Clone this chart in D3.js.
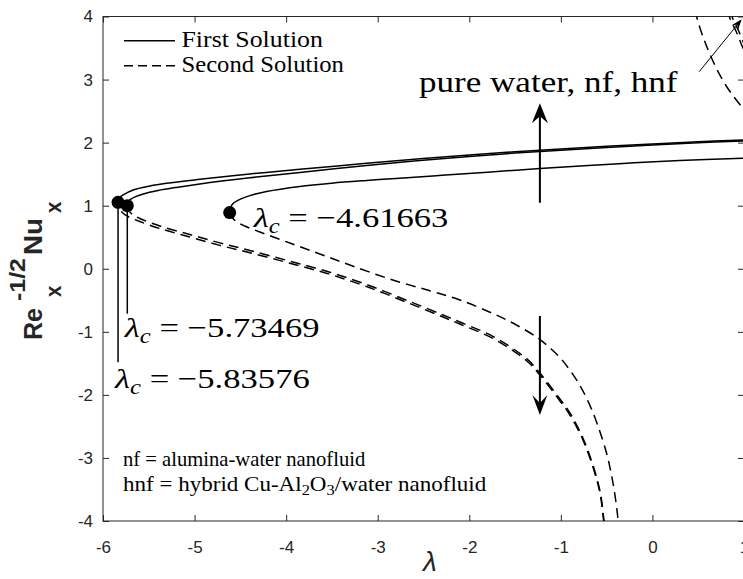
<!DOCTYPE html>
<html>
<head>
<meta charset="utf-8">
<script src="https://cdn.jsdelivr.net/npm/d3@7"></script>
<style>
  html, body { margin: 0; padding: 0; background: #fff; overflow: hidden; }
  svg { display: block; }
</style>
</head>
<body>
<svg id="chart" width="743" height="579"></svg>
<script>
// ---------- data ----------
const xTicks = [-6, -5, -4, -3, -2, -1, 0, 1];
const yTicks = [-4, -3, -2, -1, 0, 1, 2, 3, 4];

// critical points (turning points) of each fluid
const fluidNames     = ["hnf", "nf", "pure water"];
const criticalLambda = [-5.83576, -5.73469, -4.61663];
const criticalValue  = [1.054, 1.000, 0.890];
// order in which the trend label lists the fluids
const trendOrder = ["pure water", "nf", "hnf"];

// first (upper) solution branches: [lambda, Re^-1/2 Nu]
const hnfFirst = [[-5.83576,1.054],[-5.826,1.118],[-5.780,1.170],[-5.671,1.249],[-5.488,1.312],[-5.306,1.355],[-4.943,1.418],[-4.397,1.503],[-3.850,1.577],[-3.122,1.672],[-2.540,1.745],[-2.0,1.805],[-1.5,1.855],[-1.0,1.900],[-0.5,1.942],[0,1.980],[0.5,2.013],[1.0,2.043],[1.1,2.048]];
const nfFirst = [[-5.73469,1.000],[-5.726,1.058],[-5.700,1.100],[-5.650,1.140],[-5.560,1.186],[-5.400,1.240],[-5.200,1.290],[-4.943,1.345],[-4.397,1.442],[-3.850,1.527],[-3.122,1.637],[-2.540,1.717],[-2.0,1.781],[-1.5,1.834],[-1.0,1.881],[-0.5,1.924],[0,1.963],[0.5,1.997],[1.0,2.028],[1.1,2.033]];
const waterFirst = [[-4.61663,0.890],[-4.610,0.960],[-4.582,1.030],[-4.506,1.100],[-4.397,1.160],[-4.214,1.225],[-3.850,1.305],[-3.500,1.357],[-3.122,1.400],[-2.758,1.437],[-2.300,1.482],[-1.800,1.532],[-1.229,1.590],[-0.700,1.638],[-0.200,1.680],[0.300,1.715],[0.986,1.752],[1.100,1.757]];

// second (lower) solution branches
const hnfSecond = [[-5.83576,1.054],[-5.827,0.979],[-5.795,0.900],[-5.729,0.829],[-5.598,0.749],[-5.380,0.638],[-5.052,0.503],[-4.724,0.371],[-4.397,0.255],[-3.960,0.088],[-3.523,-0.088],[-3.086,-0.302],[-2.649,-0.552],[-2.300,-0.757],[-2.103,-0.877],[-1.739,-1.107],[-1.371,-1.462],[-1.229,-1.685],[-1.010,-2.097],[-0.901,-2.319],[-0.759,-2.716],[-0.650,-3.144],[-0.573,-3.556],[-0.535,-3.970],[-0.522,-4.150]];
const nfSecond = [[-5.73469,1.000],[-5.724,0.932],[-5.685,0.868],[-5.598,0.797],[-5.380,0.678],[-5.052,0.543],[-4.724,0.410],[-4.397,0.290],[-3.960,0.120],[-3.523,-0.055],[-3.086,-0.270],[-2.649,-0.520],[-2.300,-0.725],[-2.103,-0.845],[-1.739,-1.075],[-1.371,-1.430],[-1.229,-1.653],[-1.010,-2.065],[-0.901,-2.287],[-0.759,-2.684],[-0.650,-3.112],[-0.573,-3.524],[-0.532,-3.952],[-0.518,-4.150]];
const waterSecond = [[-4.61663,0.890],[-4.593,0.821],[-4.542,0.746],[-4.451,0.678],[-4.287,0.583],[-3.960,0.408],[-3.632,0.234],[-3.304,0.059],[-2.867,-0.163],[-2.430,-0.350],[-2.103,-0.495],[-1.739,-0.712],[-1.500,-0.880],[-1.250,-1.100],[-1.100,-1.280],[-1.000,-1.425],[-0.900,-1.610],[-0.800,-1.830],[-0.700,-2.110],[-0.600,-2.470],[-0.500,-2.930],[-0.450,-3.250],[-0.410,-3.580],[-0.380,-3.920],[-0.365,-4.150]];

// second solution returning from above for positive lambda
const waterSecondUpper = [[0.470,4.10],[0.483,3.997],[0.519,3.818],[0.573,3.600],[0.628,3.400],[0.715,3.130],[0.810,2.890],[0.890,2.725],[0.974,2.570],[1.021,2.486]];
const nfSecondUpper  = [[0.825,4.10],[0.847,3.97],[0.912,3.77],[0.974,3.55],[1.010,3.43]];
const hnfSecondUpper = [[0.855,4.10],[0.877,3.97],[0.942,3.77],[1.004,3.55],[1.030,3.46]];

// trend arrows: [from, to] in data units
const arrowUp   = [[-1.229, 1.047], [-1.229, 2.624]];
const arrowDown = [[-1.229, -0.749], [-1.229, -2.319]];
const arrowDiag = [[0.511, 3.125], [0.975, 3.956]];

// ---------- layout ----------
const W = 743, H = 579;
const svg = d3.select("#chart");
const x = d3.scaleLinear().domain([-6, 1]).range([103, 744]);
const y = d3.scaleLinear().domain([-4, 4]).range([521, 16.5]);
const axisColor = "#262626";
const sans = "'Liberation Sans', Arial, Helvetica, sans-serif";
const serif = "'Liberation Serif', 'Times New Roman', serif";

svg.append("rect").attr("width", W).attr("height", H).attr("fill", "#fff");

svg.append("defs").append("clipPath").attr("id", "plot-clip")
  .append("rect")
  .attr("x", x(-6)).attr("y", y(4))
  .attr("width", x(1) - x(-6)).attr("height", y(-4) - y(4));

// ---------- axes ----------
function styleAxis(g) {
  g.select(".domain").remove();
  g.selectAll(".tick line").attr("stroke", axisColor).attr("stroke-width", 1);
  g.selectAll("text").attr("font-family", sans).attr("font-size", 17).attr("fill", axisColor);
}
svg.append("g").attr("transform", `translate(0,${y(-4)})`)
  .call(d3.axisBottom(x).tickValues(xTicks).tickFormat(d => String(d)).tickSizeInner(-6).tickSizeOuter(0).tickPadding(20))
  .call(styleAxis);
svg.append("g").attr("transform", `translate(0,${y(4)})`)
  .call(d3.axisTop(x).tickValues(xTicks).tickFormat("").tickSizeInner(-6).tickSizeOuter(0))
  .call(styleAxis);
svg.append("g").attr("transform", `translate(${x(-6)},0)`)
  .call(d3.axisLeft(y).tickValues(yTicks).tickFormat(d => String(d)).tickSizeInner(-6).tickSizeOuter(0).tickPadding(10))
  .call(styleAxis);
svg.append("g").attr("transform", `translate(${x(1)},0)`)
  .call(d3.axisRight(y).tickValues(yTicks).tickFormat("").tickSizeInner(-6).tickSizeOuter(0))
  .call(styleAxis);

svg.append("rect")
  .attr("x", x(-6)).attr("y", y(4))
  .attr("width", x(1) - x(-6)).attr("height", y(-4) - y(4))
  .attr("fill", "none").attr("stroke", axisColor).attr("stroke-width", 1);

// axis titles
svg.append("text")
  .attr("x", 430).attr("y", 571)
  .attr("text-anchor", "middle")
  .attr("font-family", sans).attr("font-style", "italic").attr("font-size", 28)
  .attr("fill", axisColor)
  .text("λ");

// rotated y title, built piece by piece (base, subscript, superscript)
function titlePiece(str, bx, by, size, len) {
  const t = svg.append("text")
    .attr("font-family", sans).attr("font-weight", "bold").attr("font-size", size)
    .attr("fill", axisColor).text(str);
  const w = t.node().getBBox().width;
  t.attr("transform", `translate(${bx},${by}) rotate(-90) scale(${len / w},1)`);
}
titlePiece("Re",   42, 340, 25, 32);
titlePiece("x",    61, 297, 22, 12);
titlePiece("-1/2", 25, 301, 22, 43);
titlePiece("Nu",   42, 255, 25, 37);
titlePiece("x",    61, 213, 22, 12);

// ---------- curves ----------
const line = d3.line()
  .x(d => x(d[0])).y(d => y(d[1]))
  .curve(d3.curveCatmullRom.alpha(0.5));

const plot = svg.append("g").attr("clip-path", "url(#plot-clip)");
const dash = "10,6";
const branches = [
  { key: "wf", pts: waterFirst, dashed: false },
  { key: "nf1", pts: nfFirst, dashed: false },
  { key: "hf1", pts: hnfFirst, dashed: false },
  { key: "ws", pts: waterSecond, dashed: true },
  { key: "ns", pts: nfSecond, dashed: true },
  { key: "hs", pts: hnfSecond, dashed: true },
  { key: "wu", pts: waterSecondUpper, dashed: true },
  { key: "nu", pts: nfSecondUpper, dashed: true },
  { key: "hu", pts: hnfSecondUpper, dashed: true }
];
const paths = plot.selectAll("path.branch").data(branches).join("path")
  .attr("class", "branch")
  .attr("d", d => line(d.pts))
  .attr("fill", "none")
  .attr("stroke", "#000")
  .attr("stroke-width", 1.5)
  .attr("stroke-dasharray", d => d.dashed ? dash : null);

// keep the dashes of the two nearly coincident nanofluid branches in step
const lenOf = k => paths.filter(d => d.key === k).node().getTotalLength();
paths.filter(d => d.key === "hs").attr("stroke-dashoffset", lenOf("ns") - lenOf("hs"));

// ---------- arrows ----------
function arrow(g, seg, opts) {
  const x0 = x(seg[0][0]), y0 = y(seg[0][1]);
  const x1 = x(seg[1][0]), y1 = y(seg[1][1]);
  const ang = Math.atan2(y1 - y0, x1 - x0);
  const L = opts.len, hw = opts.half, notch = opts.notch;
  const ux = Math.cos(ang), uy = Math.sin(ang), px = -uy, py = ux;
  g.append("line")
    .attr("x1", x0).attr("y1", y0)
    .attr("x2", x1 - ux * notch).attr("y2", y1 - uy * notch)
    .attr("stroke", "#000").attr("stroke-width", opts.width);
  const bx = x1 - ux * L, by = y1 - uy * L;
  const nx = x1 - ux * notch, ny = y1 - uy * notch;
  g.append("path")
    .attr("d", `M${x1},${y1}L${bx + px * hw},${by + py * hw}L${nx},${ny}L${bx - px * hw},${by - py * hw}Z`)
    .attr("fill", "#000");
}
const arrows = svg.append("g");
arrow(arrows, arrowUp,   { len: 20, half: 8, notch: 13, width: 2 });
arrow(arrows, arrowDown, { len: 20, half: 7.5, notch: 12, width: 2 });
arrow(arrows, arrowDiag, { len: 11, half: 4, notch: 7, width: 1 });

// ---------- critical points & labels ----------
function fitText(sel, tx, ty, width) {
  const bb = sel.node().getBBox();
  const k = width / bb.width;
  sel.attr("transform", `translate(${tx},${ty}) scale(${k},1)`);
}

const marks = svg.append("g");
// leader lines from the two left-most turning points
const leaderDrop = [160, 108, 0];
criticalLambda.forEach((lc, i) => {
  if (leaderDrop[i] > 0) {
    marks.append("line")
      .attr("x1", x(lc)).attr("y1", y(criticalValue[i]))
      .attr("x2", x(lc)).attr("y2", y(criticalValue[i]) + leaderDrop[i])
      .attr("stroke", "#000").attr("stroke-width", 1.5);
  }
});
marks.selectAll("circle").data(criticalLambda).join("circle")
  .attr("cx", d => x(d)).attr("cy", (d, i) => y(criticalValue[i]))
  .attr("r", 6.5).attr("fill", "#000");

// label anchors relative to each turning point (text start, baseline)
const labelOffset = [[-3, 186], [-2.5, 131.5], [24, 14]];
criticalLambda.forEach((lc, i) => {
  const t = svg.append("text")
    .attr("font-family", serif).attr("font-size", 28).attr("fill", "#000");
  t.append("tspan").attr("font-style", "italic").text("λ");
  t.append("tspan").attr("font-style", "italic").attr("font-size", 20).attr("dy", 6).text("c");
  t.append("tspan").attr("dy", -6).text(" = \u2212" + Math.abs(lc).toFixed(5));
  fitText(t, x(lc) + labelOffset[i][0], y(criticalValue[i]) + labelOffset[i][1], 196);
});

// trend label
const trend = svg.append("text")
  .attr("font-family", serif).attr("font-size", 29).attr("fill", "#000")
  .text(trendOrder.join(", "));
fitText(trend, 419, 92, 259);

// ---------- legend ----------
const legend = svg.append("g");
const legendItems = [
  { label: "First Solution", dashed: false, y: 40.7, width: 142 },
  { label: "Second Solution", dashed: true, y: 65.7, width: 163 }
];
legendItems.forEach(it => {
  legend.append("line")
    .attr("x1", 124).attr("x2", 175).attr("y1", it.y).attr("y2", it.y)
    .attr("stroke", "#000").attr("stroke-width", 1.5)
    .attr("stroke-dasharray", it.dashed ? "9,5" : null);
  const t = legend.append("text")
    .attr("font-family", serif).attr("font-size", 23).attr("fill", "#000")
    .text(it.label);
  fitText(t, 181.5, it.y + 6, it.width);
});

// ---------- notes ----------
const n1 = svg.append("text").attr("font-family", serif).attr("font-size", 21).attr("fill", "#000")
  .text("nf = alumina-water nanofluid");
fitText(n1, 123, 466, 243);
const n2 = svg.append("text").attr("font-family", serif).attr("font-size", 21).attr("fill", "#000");
n2.append("tspan").text("hnf = hybrid Cu-Al");
n2.append("tspan").attr("font-size", 15).attr("dy", 4).text("2");
n2.append("tspan").attr("dy", -4).text("O");
n2.append("tspan").attr("font-size", 15).attr("dy", 4).text("3");
n2.append("tspan").attr("dy", -4).text("/water nanofluid");
fitText(n2, 123, 491, 364);
</script>
</body>
</html>
